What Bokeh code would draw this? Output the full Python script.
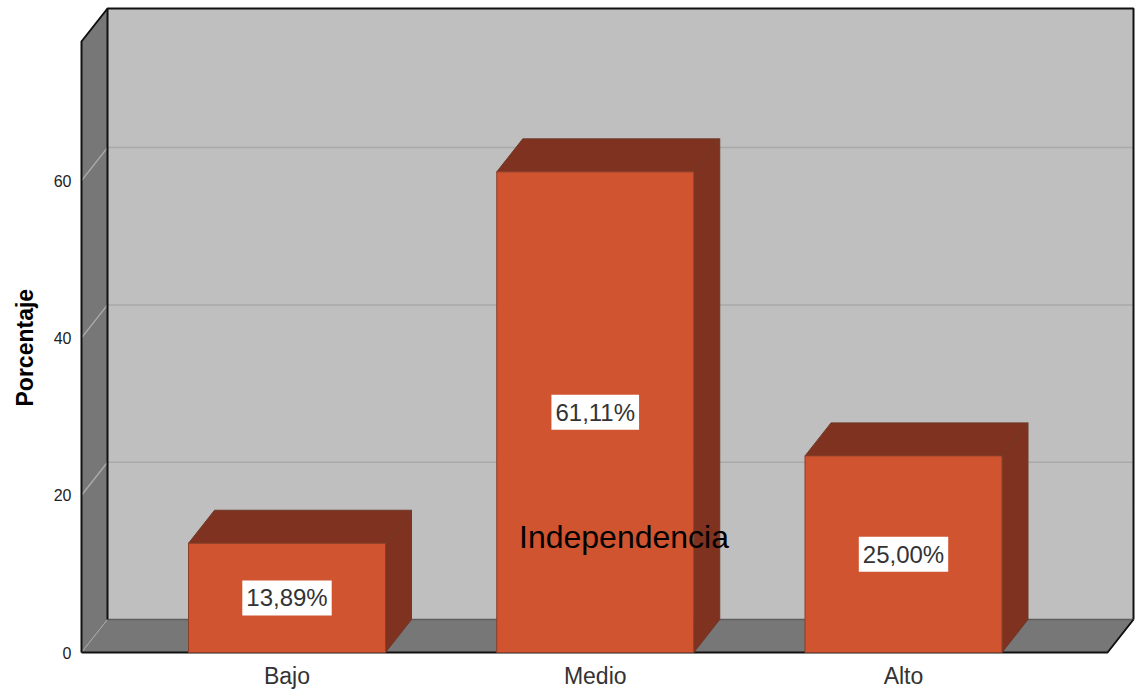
from bokeh.plotting import figure
from bokeh.models import Label, FixedTicker, Title
from bokeh.embed import file_html
from bokeh.resources import INLINE

categories = ["Bajo", "Medio", "Alto"]
values = [13.89, 61.11, 25.00]
value_labels = ["13,89%", "61,11%", "25,00%"]
y_ticks = [0, 20, 40, 60]
y_axis_title = "Porcentaje"
x_axis_title = "Independencia"

FONT = "Liberation Sans"
WALL, FLOOR = "#BFBFBF", "#777777"
FRONT, DARK = "#D05430", "#7F3220"

PX_X, PX_Y = 308.25, 7.865     # px per category / per percent
DX, DY = 26 / PX_X, 33 / PX_Y  # 3D depth in data units
BAR_W = 197 / PX_X
X0, X1 = 1 - 205.5 / PX_X, 1 + 820.5 / PX_X  # front floor edge
Y_TOP = 611 / PX_Y

xs = [i + 1 for i in range(len(categories))]

p = figure(width=1136, height=694, output_backend="svg", toolbar_location=None,
           x_range=(1 - 208.5 / PX_X, 1 + 849.5 / PX_X),
           y_range=(-2 / PX_Y, 652 / PX_Y),
           min_border_left=78, min_border_right=0, min_border_top=0, min_border_bottom=40,
           background_fill_color="white", border_fill_color="white")
p.outline_line_color = None
p.grid.visible = False

# walls and floor
p.patch([X0 + DX, X1 + DX, X1 + DX, X0 + DX], [DY, DY, Y_TOP + DY, Y_TOP + DY], color=WALL, line_width=0)
p.patch([X0, X0 + DX, X0 + DX, X0], [0, DY, Y_TOP + DY, Y_TOP], color=FLOOR, line_width=0)
p.patch([X0, X1, X1 + DX, X0 + DX], [0, 0, DY, DY], color=FLOOR, line_width=0)

# grid lines on the back and side walls
for t in y_ticks[1:]:
    p.line([X0, X0 + DX, X1 + DX], [t, t + DY, t + DY], line_color="#A9A9A9", line_width=1.5)
p.line([X0, X0 + DX], [0, DY], line_color="#A9A9A9", line_width=1)

# frame edges
p.line([X0 + DX, X1 + DX], [DY, DY], line_color="#5E5E5E", line_width=1.5)
p.line([X0 + DX, X0 + DX], [DY, Y_TOP + DY], line_color="#111111", line_width=2)
p.line([X0, X0, X0 + DX, X1 + DX, X1 + DX], [0, Y_TOP, Y_TOP + DY, Y_TOP + DY, DY],
       line_color="#111111", line_width=2)
p.line([X0, X1, X1 + DX], [0, 0, DY], line_color="#111111", line_width=2)

# bars
for x, v in zip(xs, values):
    l, r = x - BAR_W / 2, x + BAR_W / 2
    p.patch([l, r, r + DX, l + DX], [v, v, v + DY, v + DY], fill_color=DARK, line_color="#6E3A2A", line_width=1)
    p.patch([r, r + DX, r + DX, r], [0, DY, v + DY, v], fill_color=DARK, line_color="#6E3A2A", line_width=1)
p.vbar(x=xs, top=values, bottom=0, width=BAR_W, fill_color=FRONT, line_color="#8A3E28", line_width=1)

for x, v, t in zip(xs, values, value_labels):
    p.add_layout(Label(x=x, y=v / 2, text=t, text_align="center", text_baseline="middle",
                       text_font=FONT, text_font_size="24px", text_color="#333333",
                       background_fill_color="white", padding=4))

p.add_layout(Label(x=1 + 337 / PX_X, y=14.7, text=x_axis_title, text_align="center", text_baseline="middle",
                   text_font=FONT, text_font_size="32px", text_color="#000000"))

# axes
p.yaxis.ticker = FixedTicker(ticks=y_ticks)
p.yaxis.axis_line_color = None
p.yaxis.major_tick_line_color = None
p.yaxis.minor_tick_line_color = None
p.yaxis.major_tick_out = 0
p.yaxis.major_tick_in = 0
p.yaxis.major_label_standoff = 7
p.yaxis.major_label_text_font = FONT
p.yaxis.major_label_text_font_size = "16px"
p.yaxis.major_label_text_color = "#222222"

p.add_layout(Title(text=y_axis_title, align="left", offset=248, standoff=22, vertical_align="top",
                   text_font=FONT, text_font_size="23px", text_font_style="bold", text_color="#000000"), "left")

p.xaxis.ticker = FixedTicker(ticks=xs)
p.xaxis.major_label_overrides = dict(zip(xs, categories))
p.xaxis.axis_line_color = None
p.xaxis.major_tick_line_color = None
p.xaxis.minor_tick_line_color = None
p.xaxis.major_tick_out = 0
p.xaxis.major_tick_in = 0
p.xaxis.major_label_standoff = 8
p.xaxis.major_label_text_font = FONT
p.xaxis.major_label_text_font_size = "23px"
p.xaxis.major_label_text_color = "#333333"

open("out.html", "w").write(file_html(p, INLINE))
